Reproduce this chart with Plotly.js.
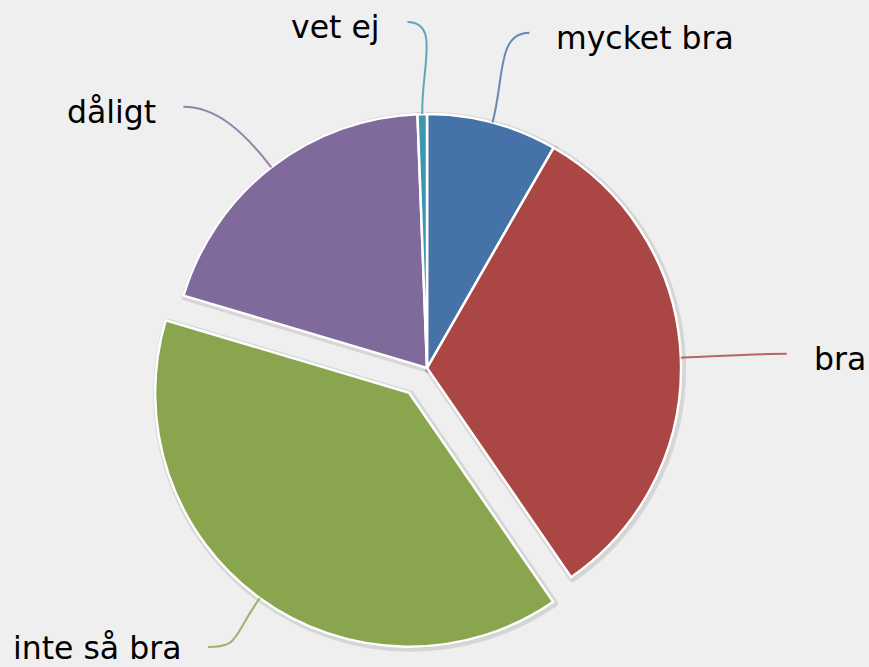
<!DOCTYPE html>
<html><head><meta charset="utf-8">
<script src="https://cdn.plot.ly/plotly-3.0.1.min.js"></script>
<style>html,body{margin:0;padding:0;background:#efefef;overflow:hidden}</style>
</head><body>
<div id="chart" style="width:869px;height:667px"></div>
<script>
// ---- data ----
const categories = ['mycket bra', 'bra', 'inte så bra', 'dåligt', 'vet ej'];
const shares = [8.3, 32.1, 39.2, 19.8, 0.6];
const sliceColors = ['#4572A7', '#AA4643', '#89A54E', '#80699B', '#3D96AE'];
const pulls = [0, 0, 0.12, 0, 0];

// ---- layout constants ----
const W = 869, H = 667;
const dom = {x: [0.164, 0.8188], y: [0.0217, 0.8748]};
const sdx = 1.5 / W, sdy = 1.5 / H;
// small label placement adjustments (pixels), like the label-collision shifts of the original
const labelNudge = {'dåligt': [-18, 13], 'inte så bra': [16, 0]};

const shadow = {
  type: 'pie', labels: categories, values: shares, sort: false,
  direction: 'clockwise', rotation: 0, pull: pulls, textinfo: 'none',
  hoverinfo: 'skip', showlegend: false,
  marker: {colors: categories.map(() => 'rgba(0,0,0,0.05)'),
           line: {color: 'rgba(0,0,0,0.10)', width: 7}},
  domain: {x: [dom.x[0] + sdx, dom.x[1] + sdx], y: [dom.y[0] - sdy, dom.y[1] - sdy]}
};
const pie = {
  type: 'pie', labels: categories, values: shares, sort: false,
  direction: 'clockwise', rotation: 0, pull: pulls, textinfo: 'none',
  hoverinfo: 'label+percent', showlegend: false,
  marker: {colors: sliceColors, line: {color: '#ffffff', width: 2.5}},
  domain: dom
};
const layout = {
  width: W, height: H, margin: {l: 0, r: 0, t: 0, b: 0},
  paper_bgcolor: '#efefef', plot_bgcolor: '#efefef', showlegend: false
};

Plotly.newPlot('chart', [shadow, pie], layout, {displayModeBar: false}).then(gd => {
  const cd0 = gd.calcdata[1][0];
  const cx = cd0.cx, cy = cd0.cy, r = cd0.r;
  const total = shares.reduce((a, b) => a + b, 0);
  const dist = r * 0.366, h = 13, gap = 25;
  const px = x => x / W, py = y => 1 - y / H;
  const shapes = [], annotations = [];
  let cum = 0;
  shares.forEach((v, i) => {
    const mid = (cum + v / 2) / total * 2 * Math.PI;
    cum += v;
    const ux = Math.sin(mid), uy = -Math.cos(mid);
    const side = ux >= 0 ? 1 : -1;
    const ccx = cx + pulls[i] * r * ux, ccy = cy + pulls[i] * r * uy;
    const p0 = [ccx + r * ux, ccy + r * uy];
    let e = [ccx + (r + dist) * ux + side * h, ccy + (r + dist) * uy];
    e[1] = Math.max(22, Math.min(H - 20, e[1]));
    const nd = labelNudge[categories[i]] || [0, 0];
    e = [e[0] + nd[0], e[1] + nd[1]];
    const p1 = [p0[0] + ux * dist * 0.5, p0[1] + uy * dist * 0.5];
    const p2 = [e[0] - side * dist * 0.35, e[1]];
    shapes.push({
      type: 'path', xref: 'paper', yref: 'paper',
      path: `M${px(p0[0])},${py(p0[1])} C${px(p1[0])},${py(p1[1])} ${px(p2[0])},${py(p2[1])} ${px(e[0])},${py(e[1])}`,
      line: {color: sliceColors[i], width: 2}, opacity: 0.8
    });
    const ly = Math.min(H - 19.5, e[1] + 5);
    annotations.push({
      xref: 'paper', yref: 'paper', x: px(e[0] + side * gap), y: py(ly),
      text: categories[i], showarrow: false,
      xanchor: side > 0 ? 'left' : 'right', yanchor: 'middle',
      font: {family: 'DejaVu Sans, Verdana, sans-serif', size: 31.5, color: '#000000'}
    });
  });
  return Plotly.relayout(gd, {shapes, annotations});
});
</script>
</body></html>
